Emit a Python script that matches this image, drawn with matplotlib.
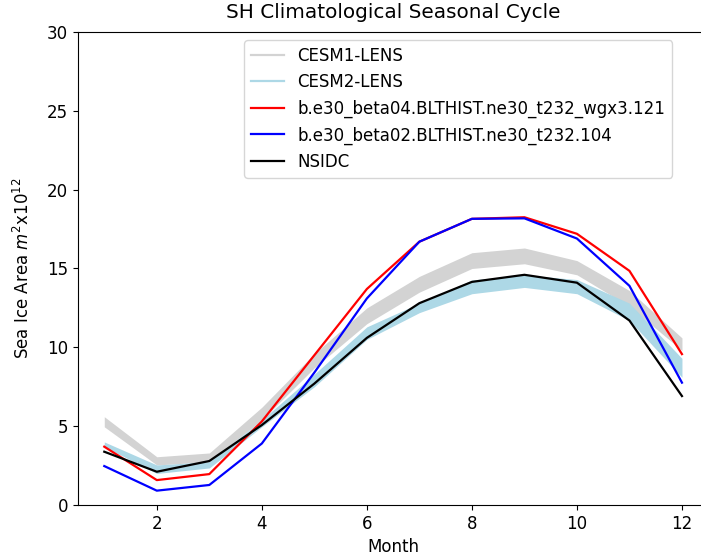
"""
SH climatological seasonal cycle of sea ice area.
"""

import matplotlib
matplotlib.use("Agg")
import matplotlib.pyplot as plt
from matplotlib.lines import Line2D


# 1. Data

months = [1, 2, 3, 4, 5, 6, 7, 8, 9, 10, 11, 12]

cesm1_low = [4.96, 2.54, 2.75, 5.4, 8.7, 11.5, 13.5, 15.0, 15.3, 14.6, 12.6, 9.8]
cesm1_high = [5.6, 3.06, 3.3, 6.2, 9.6, 12.5, 14.5, 16.0, 16.3, 15.5, 13.6, 10.6]

cesm2_low = [3.7, 2.0, 2.35, 4.96, 7.5, 10.5, 12.2, 13.4, 13.8, 13.4, 11.7, 8.1]
cesm2_high = [4.0, 2.54, 2.75, 5.4, 8.3, 11.3, 12.8, 14.27, 14.6, 14.3, 12.8, 9.3]

beta04 = [3.7, 1.58, 1.96, 5.3, 9.5, 13.7, 16.7, 18.15, 18.25, 17.2, 14.85, 9.57]
beta02 = [2.47, 0.91, 1.27, 3.9, 8.4, 13.1, 16.7, 18.15, 18.18, 16.9, 13.9, 7.76]
nsidc = [3.38, 2.11, 2.79, 5.07, 7.7, 10.6, 12.8, 14.15, 14.6, 14.1, 11.7, 6.91]

labels = [
    "CESM1-LENS",
    "CESM2-LENS",
    "b.e30_beta04.BLTHIST.ne30_t232_wgx3.121",
    "b.e30_beta02.BLTHIST.ne30_t232.104",
    "NSIDC",
]


# 2. Plot

plt.rcParams["font.size"] = 12

fig = plt.figure(figsize=(7.01, 5.60), dpi=100)
ax = fig.add_axes([0.1113, 0.0982, 0.899, 0.8447])

ax.fill_between(months, cesm1_low, cesm1_high, color="lightgrey", linewidth=0)
ax.fill_between(months, cesm2_low, cesm2_high, color="lightblue", linewidth=0)

ax.plot(months, beta04, color="red", linewidth=1.6)
ax.plot(months, beta02, color="blue", linewidth=1.6)
ax.plot(months, nsidc, color="black", linewidth=1.6)

handles = [
    Line2D([], [], color="lightgrey", linewidth=1.6),
    Line2D([], [], color="lightblue", linewidth=1.6),
    Line2D([], [], color="red", linewidth=1.6),
    Line2D([], [], color="blue", linewidth=1.6),
    Line2D([], [], color="black", linewidth=1.6),
]
ax.legend(handles, labels, loc="upper right", bbox_to_anchor=(0.956, 1.0))

ax.set_xlim(0.5, 12.5)
ax.set_ylim(0, 30)
ax.set_xticks([2, 4, 6, 8, 10, 12])
ax.set_title("SH Climatological Seasonal Cycle", pad=10)
ax.set_xlabel("Month")
ax.set_ylabel("Sea Ice Area $m^2$x$10^{12}$", labelpad=10)

fig.savefig("out.png", dpi=100)
